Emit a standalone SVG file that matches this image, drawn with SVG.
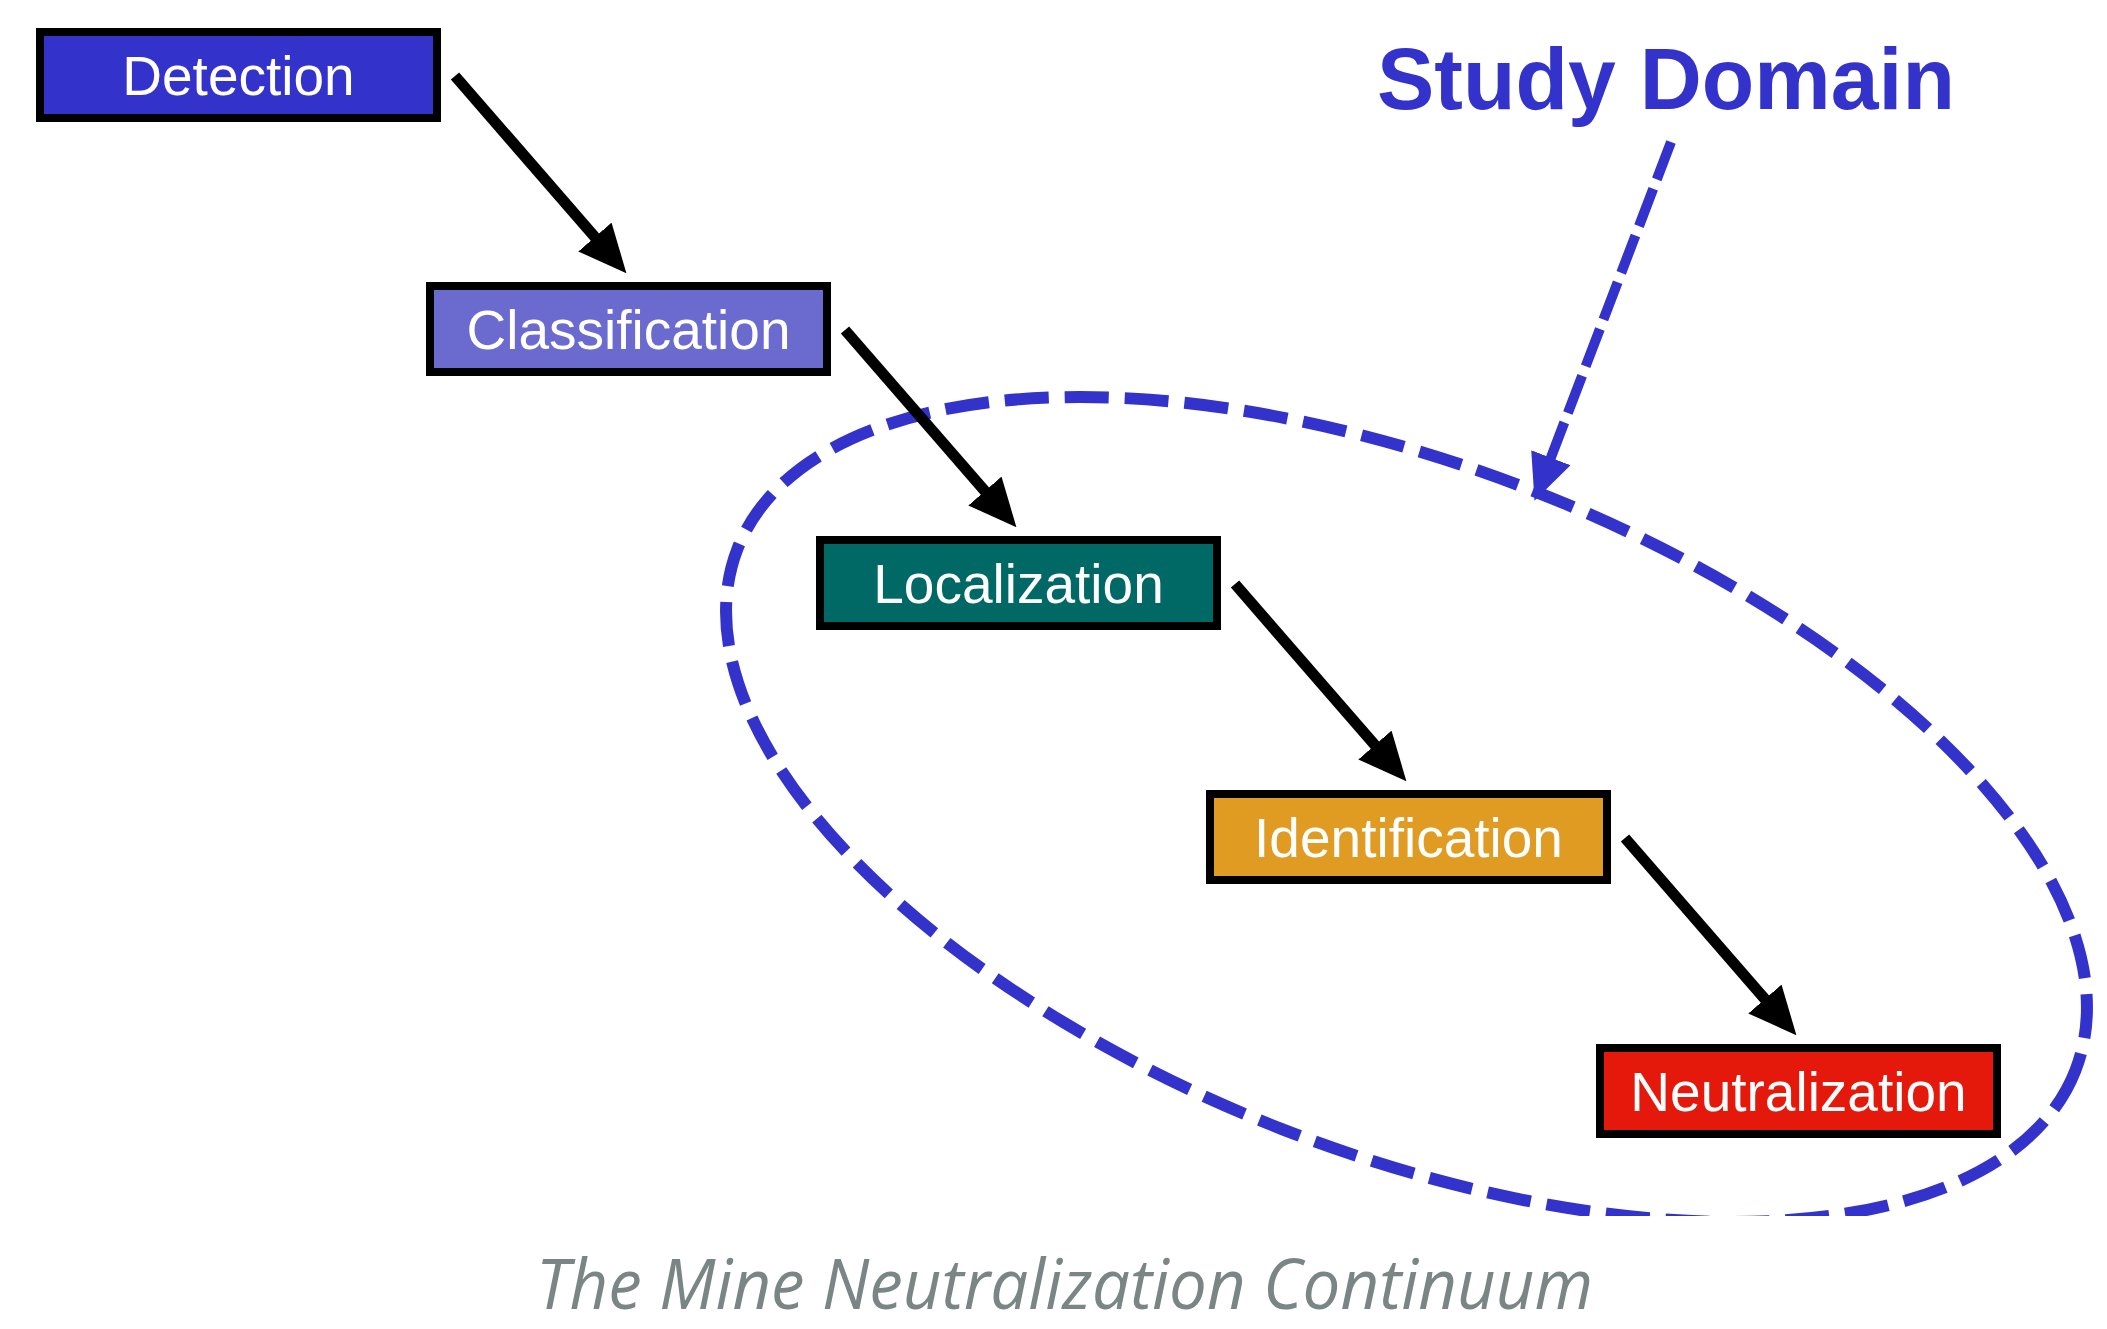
<svg xmlns="http://www.w3.org/2000/svg" width="2107" height="1329" viewBox="0 0 2107 1329">
  <defs>
    <style>
      .box { stroke: #000; stroke-width: 8; }
      .lbl { font-family: "Liberation Sans", Arial, sans-serif; font-size: 55px; fill: #fff; text-anchor: middle; }
      .arrow { stroke: #000; stroke-width: 11; fill: none; marker-end: url(#headBlack); }
      .domain { stroke: #3333cc; fill: none; }
    </style>
    <marker id="headBlack" viewBox="0 -22 48 44" markerUnits="userSpaceOnUse" markerWidth="48" markerHeight="44" refX="5" refY="0" orient="auto">
      <path d="M0,-22 L48,0 L0,22 z" fill="#000"/>
    </marker>
    <marker id="headBlue" viewBox="0 -21 46 42" markerUnits="userSpaceOnUse" markerWidth="46" markerHeight="42" refX="5" refY="0" orient="auto">
      <path d="M0,-21 L46,0 L0,21 z" fill="#3333cc"/>
    </marker>
    <clipPath id="clipBottom">
      <rect x="0" y="0" width="2107" height="1216"/>
    </clipPath>
  </defs>
  <rect width="2107" height="1329" fill="#fff"/>

  <g id="study-domain">
    <g clip-path="url(#clipBottom)">
      <ellipse class="domain" cx="1406.5" cy="809.5" rx="718" ry="343" transform="rotate(21.3 1406.5 809.5)" stroke-width="12" stroke-dasharray="44 16"/>
    </g>
    <text x="1377" y="109" font-family="Liberation Sans, Arial, sans-serif" font-weight="bold" font-size="88" fill="#3333cc" textLength="578" lengthAdjust="spacingAndGlyphs">Study Domain</text>
  </g>

  <g id="connectors">
    <line class="arrow" x1="455" y1="76" x2="598.2" y2="240.8"/>
    <line class="arrow" x1="845" y1="330" x2="988.2" y2="494.8"/>
    <line class="arrow" x1="1235" y1="584" x2="1378.2" y2="748.8"/>
    <line class="arrow" x1="1625" y1="838" x2="1768.2" y2="1002.8"/>
    <line x1="1671" y1="142" x2="1549.1" y2="462.4" stroke="#3333cc" stroke-width="10" stroke-dasharray="40 10" marker-end="url(#headBlue)"/>
  </g>

  <g id="detection">
    <rect class="box" x="40" y="32" width="397" height="86" fill="#3333cc"/>
    <text class="lbl" x="238.5" y="95">Detection</text>
  </g>
  <g id="classification">
    <rect class="box" x="430" y="286" width="397" height="86" fill="#6b6bcf"/>
    <text class="lbl" x="628.5" y="349">Classification</text>
  </g>
  <g id="localization">
    <rect class="box" x="820" y="540" width="397" height="86" fill="#006966"/>
    <text class="lbl" x="1018.5" y="603">Localization</text>
  </g>
  <g id="identification">
    <rect class="box" x="1210" y="794" width="397" height="86" fill="#e09b22"/>
    <text class="lbl" x="1408.5" y="857">Identification</text>
  </g>
  <g id="neutralization">
    <rect class="box" x="1600" y="1048" width="397" height="86" fill="#e5190b"/>
    <text class="lbl" x="1798.5" y="1111">Neutralization</text>
  </g>

  <text id="caption" x="536" y="1309" font-family="Open Sans, Liberation Sans, sans-serif" font-style="italic" font-size="69" fill="#7a8585" textLength="1057" lengthAdjust="spacingAndGlyphs">The Mine Neutralization Continuum</text>
</svg>
